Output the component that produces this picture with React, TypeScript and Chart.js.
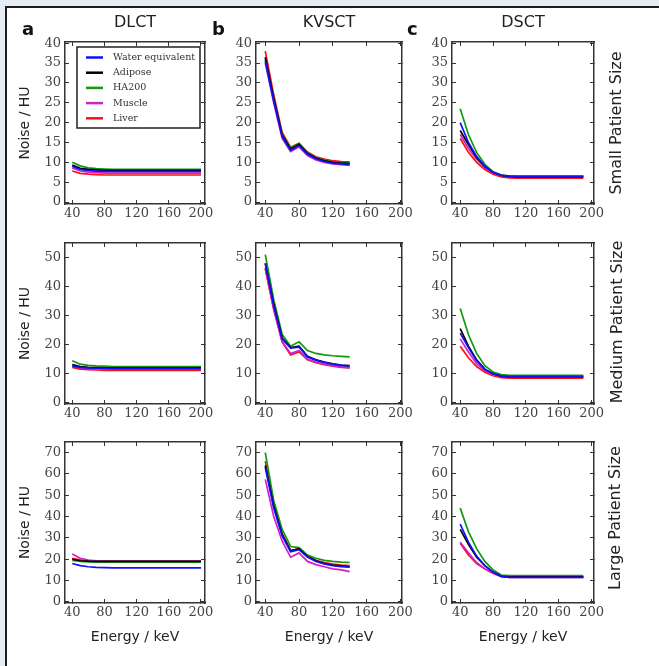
import React, { useEffect, useRef } from "react";
import { Chart, registerables } from "chart.js";

Chart.register(...registerables);

// ---------------- data ----------------
const materials = ["Water equivalent", "Adipose", "HA200", "Muscle", "Liver"];
const materialColors = ["#1010ff", "#000000", "#119911", "#cc22cc", "#ff1010"];

const energyDLCT = [40, 50, 60, 70, 80, 90, 100, 110, 120, 130, 140, 150, 160, 170, 180, 190, 200];
const energyKVSCT = [40, 50, 60, 70, 80, 90, 100, 110, 120, 130, 140];
const energyDSCT = [40, 50, 60, 70, 80, 90, 100, 110, 120, 130, 140, 150, 160, 170, 180, 190];

const xTickValues = [40, 80, 120, 160, 200];
const yTickValuesSmall = [0, 5, 10, 15, 20, 25, 30, 35, 40];
const yTickValuesMedium = [0, 10, 20, 30, 40, 50];
const yTickValuesLarge = [0, 10, 20, 30, 40, 50, 60, 70];

const columnTitles = ["DLCT", "KVSCT", "DSCT"];
const columnLetters = ["a", "b", "c"];
const rowLabels = ["Small Patient Size", "Medium Patient Size", "Large Patient Size"];
const yAxisLabel = "Noise / HU";
const xAxisLabel = "Energy / keV";

// Small patient
const smallDlctWater = [9.0, 8.2, 7.9, 7.8, 7.7, 7.7, 7.7, 7.7, 7.7, 7.7, 7.7, 7.7, 7.7, 7.7, 7.7, 7.7, 7.7];
const smallDlctAdipose = [9.3, 8.5, 8.2, 8.1, 8.0, 8.0, 8.0, 8.0, 8.0, 8.0, 8.0, 8.0, 8.0, 8.0, 8.0, 8.0, 8.0];
const smallDlctHA200 = [10.0, 9.1, 8.6, 8.4, 8.3, 8.2, 8.2, 8.2, 8.2, 8.2, 8.2, 8.2, 8.2, 8.2, 8.2, 8.2, 8.2];
const smallDlctMuscle = [8.6, 7.8, 7.5, 7.4, 7.3, 7.3, 7.3, 7.3, 7.3, 7.3, 7.3, 7.3, 7.3, 7.3, 7.3, 7.3, 7.3];
const smallDlctLiver = [7.8, 7.2, 7.0, 6.9, 6.8, 6.8, 6.8, 6.8, 6.8, 6.8, 6.8, 6.8, 6.8, 6.8, 6.8, 6.8, 6.8];

const smallKvsctWater = [35.5, 25.5, 16.5, 13.0, 14.2, 12.0, 10.9, 10.2, 9.8, 9.6, 9.4];
const smallKvsctAdipose = [36.5, 26.0, 16.8, 13.3, 14.5, 12.2, 11.1, 10.4, 10.0, 9.8, 9.7];
const smallKvsctHA200 = [36.0, 26.0, 17.0, 13.6, 14.7, 12.4, 11.2, 10.5, 10.1, 9.9, 9.8];
const smallKvsctMuscle = [35.0, 25.0, 16.0, 12.7, 13.9, 11.7, 10.6, 10.0, 9.6, 9.4, 9.2];
const smallKvsctLiver = [38.0, 27.0, 17.5, 13.8, 14.8, 12.6, 11.4, 10.8, 10.4, 10.2, 10.1];

const smallDsctWater = [20.0, 15.0, 11.5, 9.0, 7.5, 6.7, 6.5, 6.4, 6.4, 6.4, 6.4, 6.4, 6.4, 6.4, 6.4, 6.4];
const smallDsctAdipose = [18.0, 14.5, 11.2, 9.0, 7.5, 6.7, 6.4, 6.3, 6.3, 6.3, 6.3, 6.3, 6.3, 6.3, 6.3, 6.3];
const smallDsctHA200 = [23.5, 17.0, 12.5, 9.5, 7.6, 6.8, 6.5, 6.5, 6.5, 6.5, 6.5, 6.5, 6.5, 6.5, 6.5, 6.5];
const smallDsctMuscle = [17.0, 13.5, 10.8, 8.7, 7.3, 6.7, 6.6, 6.6, 6.6, 6.6, 6.6, 6.6, 6.6, 6.6, 6.6, 6.6];
const smallDsctLiver = [16.0, 12.5, 10.0, 8.2, 7.0, 6.3, 6.1, 6.0, 6.0, 6.0, 6.0, 6.0, 6.0, 6.0, 6.0, 6.0];

// Medium patient
const mediumDlctWater = [12.6, 12.2, 12.0, 11.9, 11.9, 11.8, 11.8, 11.8, 11.8, 11.8, 11.8, 11.8, 11.8, 11.8, 11.8, 11.8, 11.8];
const mediumDlctAdipose = [13.2, 12.5, 12.2, 12.1, 12.0, 12.0, 12.0, 12.0, 12.0, 12.0, 12.0, 12.0, 12.0, 12.0, 12.0, 12.0, 12.0];
const mediumDlctHA200 = [14.5, 13.3, 12.9, 12.7, 12.6, 12.5, 12.5, 12.5, 12.5, 12.5, 12.5, 12.5, 12.5, 12.5, 12.5, 12.5, 12.5];
const mediumDlctMuscle = [12.8, 12.0, 11.8, 11.7, 11.6, 11.6, 11.6, 11.6, 11.6, 11.6, 11.6, 11.6, 11.6, 11.6, 11.6, 11.6, 11.6];
const mediumDlctLiver = [12.2, 11.6, 11.4, 11.3, 11.2, 11.2, 11.2, 11.2, 11.2, 11.2, 11.2, 11.2, 11.2, 11.2, 11.2, 11.2, 11.2];

const mediumKvsctWater = [48.0, 33.5, 22.0, 18.8, 19.2, 15.8, 14.7, 13.9, 13.3, 12.9, 12.6];
const mediumKvsctAdipose = [48.0, 34.0, 22.3, 19.0, 19.5, 16.0, 14.8, 14.0, 13.4, 13.0, 12.8];
const mediumKvsctHA200 = [51.0, 35.5, 23.5, 19.5, 21.0, 18.0, 17.0, 16.5, 16.2, 16.0, 15.8];
const mediumKvsctMuscle = [46.5, 32.5, 21.0, 17.0, 18.0, 15.0, 14.0, 13.3, 12.8, 12.4, 12.1];
const mediumKvsctLiver = [46.0, 32.0, 21.0, 16.5, 17.5, 14.8, 13.8, 13.1, 12.6, 12.2, 12.0];

const mediumDsctWater = [24.0, 19.0, 14.5, 11.5, 10.0, 9.2, 8.9, 8.9, 8.9, 8.9, 8.9, 8.9, 8.9, 8.9, 8.9, 8.9];
const mediumDsctAdipose = [25.5, 19.5, 14.8, 11.6, 10.0, 9.2, 9.0, 9.0, 9.0, 9.0, 9.0, 9.0, 9.0, 9.0, 9.0, 9.0];
const mediumDsctHA200 = [32.5, 23.5, 17.0, 12.8, 10.6, 9.7, 9.5, 9.5, 9.5, 9.5, 9.5, 9.5, 9.5, 9.5, 9.5, 9.5];
const mediumDsctMuscle = [22.0, 17.5, 13.5, 11.0, 9.8, 9.2, 9.1, 9.1, 9.1, 9.1, 9.1, 9.1, 9.1, 9.1, 9.1, 9.1];
const mediumDsctLiver = [19.5, 15.5, 12.5, 10.5, 9.3, 8.7, 8.5, 8.5, 8.5, 8.5, 8.5, 8.5, 8.5, 8.5, 8.5, 8.5];

// Large patient
const largeDlctWater = [18.0, 17.0, 16.5, 16.2, 16.1, 16.0, 16.0, 16.0, 16.0, 16.0, 16.0, 16.0, 16.0, 16.0, 16.0, 16.0, 16.0];
const largeDlctAdipose = [20.0, 19.3, 19.1, 19.0, 19.0, 19.0, 19.0, 19.0, 19.0, 19.0, 19.0, 19.0, 19.0, 19.0, 19.0, 19.0, 19.0];
const largeDlctHA200 = [19.5, 19.0, 18.8, 18.7, 18.7, 18.7, 18.7, 18.7, 18.7, 18.7, 18.7, 18.7, 18.7, 18.7, 18.7, 18.7, 18.7];
const largeDlctMuscle = [22.5, 20.5, 19.6, 19.3, 19.2, 19.2, 19.2, 19.2, 19.2, 19.2, 19.2, 19.2, 19.2, 19.2, 19.2, 19.2, 19.2];
const largeDlctLiver = [20.5, 19.7, 19.4, 19.2, 19.1, 19.1, 19.1, 19.1, 19.1, 19.1, 19.1, 19.1, 19.1, 19.1, 19.1, 19.1, 19.1];

const largeKvsctWater = [63.0, 44.0, 31.0, 23.5, 24.5, 21.0, 19.0, 17.8, 17.0, 16.6, 16.3];
const largeKvsctAdipose = [64.0, 45.0, 31.5, 24.0, 25.0, 21.2, 19.3, 18.0, 17.3, 16.9, 16.5];
const largeKvsctHA200 = [70.0, 47.5, 34.0, 26.0, 25.5, 22.0, 20.5, 19.5, 19.0, 18.7, 18.5];
const largeKvsctMuscle = [57.5, 40.0, 28.5, 21.0, 23.0, 19.0, 17.5, 16.5, 15.5, 15.0, 14.2];
const largeKvsctLiver = [66.0, 45.5, 32.0, 24.0, 25.0, 21.5, 19.5, 18.5, 17.8, 17.3, 17.0];

const largeDsctWater = [36.5, 28.0, 21.5, 17.0, 14.0, 12.0, 11.5, 11.5, 11.5, 11.5, 11.5, 11.5, 11.5, 11.5, 11.5, 11.5];
const largeDsctAdipose = [34.0, 27.0, 21.0, 17.0, 14.0, 12.0, 11.8, 11.8, 11.8, 11.8, 11.8, 11.8, 11.8, 11.8, 11.8, 11.8];
const largeDsctHA200 = [44.0, 33.0, 25.0, 19.0, 15.0, 12.6, 12.3, 12.3, 12.3, 12.3, 12.3, 12.3, 12.3, 12.3, 12.3, 12.3];
const largeDsctMuscle = [28.0, 23.0, 18.5, 15.5, 13.5, 12.0, 11.7, 11.7, 11.7, 11.7, 11.7, 11.7, 11.7, 11.7, 11.7, 11.7];
const largeDsctLiver = [27.5, 22.0, 18.0, 15.5, 13.5, 12.0, 11.5, 11.5, 11.5, 11.5, 11.5, 11.5, 11.5, 11.5, 11.5, 11.5];

const energies = [energyDLCT, energyKVSCT, energyDSCT];
const seriesGrid = [
  [
    [smallDlctWater, smallDlctAdipose, smallDlctHA200, smallDlctMuscle, smallDlctLiver],
    [smallKvsctWater, smallKvsctAdipose, smallKvsctHA200, smallKvsctMuscle, smallKvsctLiver],
    [smallDsctWater, smallDsctAdipose, smallDsctHA200, smallDsctMuscle, smallDsctLiver],
  ],
  [
    [mediumDlctWater, mediumDlctAdipose, mediumDlctHA200, mediumDlctMuscle, mediumDlctLiver],
    [mediumKvsctWater, mediumKvsctAdipose, mediumKvsctHA200, mediumKvsctMuscle, mediumKvsctLiver],
    [mediumDsctWater, mediumDsctAdipose, mediumDsctHA200, mediumDsctMuscle, mediumDsctLiver],
  ],
  [
    [largeDlctWater, largeDlctAdipose, largeDlctHA200, largeDlctMuscle, largeDlctLiver],
    [largeKvsctWater, largeKvsctAdipose, largeKvsctHA200, largeKvsctMuscle, largeKvsctLiver],
    [largeDsctWater, largeDsctAdipose, largeDsctHA200, largeDsctMuscle, largeDsctLiver],
  ],
];

// ---------------- layout ----------------
const COLUMNS = [
  { boxLeft: 65, boxWidth: 140, xMin: 31, xMax: 205, yAxisWidth: 53 },
  { boxLeft: 256, boxWidth: 146, xMin: 29, xMax: 202, yAxisWidth: 40 },
  { boxLeft: 452, boxWidth: 142, xMin: 30, xMax: 203, yAxisWidth: 40 },
];
const ROWS = [
  { boxTop: 42, boxHeight: 162, yMin: -0.5, yMax: 40.3, yTicks: yTickValuesSmall, xAxisHeight: 22 },
  { boxTop: 243, boxHeight: 161, yMin: -0.4, yMax: 55, yTicks: yTickValuesMedium, xAxisHeight: 22 },
  { boxTop: 442, boxHeight: 161, yMin: -0.5, yMax: 75, yTicks: yTickValuesLarge, xAxisHeight: 45 },
];
const TITLE_HEIGHT = 30;
const TOP_AXIS_HEIGHT = 4;
const RIGHT_AXIS_WIDTH = 4;
const EXTRA_TOP = 10;
const EXTRA_RIGHT = 12;

const serifFont = "'DejaVu Serif', serif";
const sansFont = "'DejaVu Sans', sans-serif";
const tickFont = { family: serifFont, size: 13 };
const tickColor = "#444";
const frameBorder = { display: true, color: "#333", width: 1.5 };
const innerTicks = { drawOnChartArea: false, drawTicks: true, tickLength: -4, color: "#333", lineWidth: 1 };

const boxLegendPlugin = {
  id: "boxLegend",
  afterDatasetsDraw(chart: any) {
    const { ctx, chartArea } = chart;
    const x = chartArea.left + 12;
    const y = chartArea.top + 5;
    const w = 123;
    const h = 81;
    ctx.save();
    ctx.fillStyle = "#ffffff";
    ctx.fillRect(x, y, w, h);
    ctx.strokeStyle = "#222";
    ctx.lineWidth = 1.5;
    ctx.strokeRect(x, y, w, h);
    chart.data.datasets.forEach((ds: any, i: number) => {
      const ry = y + 10.5 + i * 15.2;
      ctx.strokeStyle = ds.borderColor;
      ctx.lineWidth = 2.5;
      ctx.beginPath();
      ctx.moveTo(x + 9, ry);
      ctx.lineTo(x + 26, ry);
      ctx.stroke();
      ctx.fillStyle = "#333";
      ctx.font = `9.5px ${serifFont}`;
      ctx.textBaseline = "middle";
      ctx.textAlign = "left";
      ctx.fillText(ds.label, x + 36, ry);
    });
    ctx.restore();
  },
};

function NoisePanel({ row, col }: { row: number; col: number }) {
  const canvasRef = useRef<HTMLCanvasElement | null>(null);
  const c = COLUMNS[col];
  const r = ROWS[row];
  const titleH = row === 0 ? TITLE_HEIGHT : 0;
  const padTop = row === 0 ? 0 : EXTRA_TOP;
  const left = c.boxLeft - c.yAxisWidth;
  const top = r.boxTop - TOP_AXIS_HEIGHT - titleH - padTop;
  const width = c.yAxisWidth + c.boxWidth + RIGHT_AXIS_WIDTH + EXTRA_RIGHT;
  const height = padTop + titleH + TOP_AXIS_HEIGHT + r.boxHeight + r.xAxisHeight;

  useEffect(() => {
    const canvas = canvasRef.current;
    if (!canvas) return;
    const xs = energies[col];
    const series = seriesGrid[row][col];
    const datasets = series.map((vals, i) => ({
      label: materials[i],
      data: xs.map((x, j) => ({ x, y: vals[j] })),
      borderColor: materialColors[i],
      backgroundColor: materialColors[i],
      borderWidth: 1.7,
      pointRadius: 0,
      tension: 0,
      fill: false,
    }));
    const setTicks = (values: number[]) => (scale: any) => {
      scale.ticks = values.map((v) => ({ value: v }));
    };
    const fixSize = (w: number | null, h: number | null) => (scale: any) => {
      if (w !== null) scale.width = w;
      if (h !== null) scale.height = h;
      scale.paddingLeft = 0;
      scale.paddingRight = 0;
      scale.paddingTop = 0;
      scale.paddingBottom = 0;
    };

    const chart = new Chart(canvas, {
      type: "line",
      data: { datasets },
      plugins: row === 0 && col === 0 ? [boxLegendPlugin] : [],
      options: {
        responsive: false,
        animation: false,
        events: [],
        layout: { padding: { top: padTop, right: EXTRA_RIGHT, bottom: 0, left: 0 } },
        plugins: {
          legend: { display: false },
          tooltip: { enabled: false },
          title: {
            display: row === 0,
            text: columnTitles[col],
            fullSize: false,
            color: "#222",
            font: { family: sansFont, size: 16, weight: "normal", lineHeight: 1.25 },
            padding: { top: 5, bottom: 5 },
          },
        },
        scales: {
          x: {
            type: "linear",
            position: "bottom",
            min: c.xMin,
            max: c.xMax,
            afterBuildTicks: setTicks(xTickValues),
            afterFit: fixSize(null, r.xAxisHeight),
            ticks: { font: tickFont, color: tickColor, padding: 6, maxRotation: 0, autoSkip: false, callback: (v: any) => String(v) },
            grid: innerTicks,
            border: frameBorder,
            title: {
              display: row === 2,
              text: xAxisLabel,
              color: "#222",
              font: { family: sansFont, size: 14 },
              padding: { top: 0, bottom: 2 },
            },
          },
          x2: {
            type: "linear",
            position: "top",
            min: c.xMin,
            max: c.xMax,
            afterBuildTicks: setTicks(xTickValues),
            afterFit: fixSize(null, TOP_AXIS_HEIGHT),
            ticks: { display: false },
            grid: innerTicks,
            border: frameBorder,
          },
          y: {
            type: "linear",
            position: "left",
            min: r.yMin,
            max: r.yMax,
            afterBuildTicks: setTicks(r.yTicks),
            afterFit: fixSize(c.yAxisWidth, null),
            ticks: { font: tickFont, color: tickColor, padding: 8, autoSkip: false, callback: (v: any) => String(v) },
            grid: innerTicks,
            border: frameBorder,
            title: {
              display: col === 0,
              text: yAxisLabel,
              color: "#222",
              font: { family: sansFont, size: 14 },
              padding: { top: 4.6, bottom: 0 },
            },
          },
          y2: {
            type: "linear",
            position: "right",
            min: r.yMin,
            max: r.yMax,
            afterBuildTicks: setTicks(r.yTicks),
            afterFit: fixSize(RIGHT_AXIS_WIDTH, null),
            ticks: { display: false },
            grid: innerTicks,
            border: frameBorder,
          },
        },
      } as any,
    });
    return () => chart.destroy();
  }, [row, col]);

  return (
    <canvas
      ref={canvasRef}
      width={width}
      height={height}
      style={{ position: "absolute", left, top, width, height }}
    />
  );
}

const letterLefts = [22, 212, 407];
const rowLabelCenters = [
  { x: 616, y: 123 },
  { x: 617, y: 322 },
  { x: 615, y: 518 },
];

export default function App() {
  const panels = [];
  for (let row = 0; row < 3; row++) {
    for (let col = 0; col < 3; col++) {
      panels.push(<NoisePanel key={`${row}-${col}`} row={row} col={col} />);
    }
  }
  return (
    <div
      style={{
        position: "fixed",
        left: 0,
        top: 0,
        width: 659,
        height: 666,
        background: "#e6ecf6",
        overflow: "hidden",
      }}
    >
      <div
        style={{
          position: "absolute",
          left: 5,
          top: 6,
          right: 0,
          bottom: 0,
          background: "#ffffff",
          borderTop: "2px solid #1c1c1c",
          borderLeft: "2px solid #1c1c1c",
        }}
      />
      {panels}
      {columnLetters.map((l, i) => (
        <div
          key={l}
          style={{
            position: "absolute",
            left: letterLefts[i],
            top: 20,
            fontFamily: sansFont,
            fontWeight: "bold",
            fontSize: 18,
            lineHeight: "18px",
            color: "#111",
          }}
        >
          {l}
        </div>
      ))}
      {rowLabels.map((t, i) => (
        <div
          key={t}
          style={{
            position: "absolute",
            left: rowLabelCenters[i].x,
            top: rowLabelCenters[i].y,
            transform: "translate(-50%, -50%) rotate(-90deg)",
            whiteSpace: "nowrap",
            fontFamily: sansFont,
            fontSize: 16,
            lineHeight: "20px",
            color: "#222",
          }}
        >
          {t}
        </div>
      ))}
    </div>
  );
}
